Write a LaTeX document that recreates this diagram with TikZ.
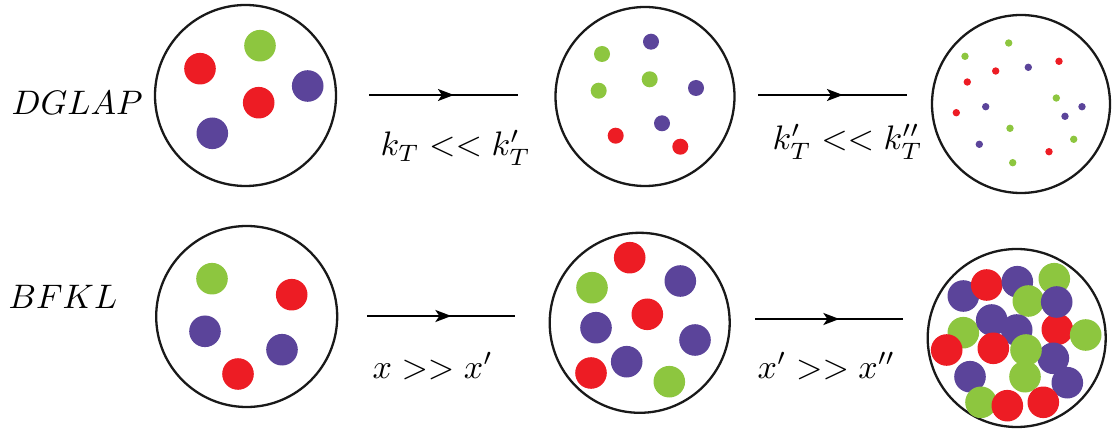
\documentclass[tikz,border=0pt]{standalone}
\usetikzlibrary{arrows.meta,decorations.markings}
\definecolor{qred}{HTML}{ED1C24}
\definecolor{qgreen}{HTML}{8DC63F}
\definecolor{qpurple}{HTML}{5B449A}
\tikzset{
  bag/.style={circle,draw=black!90,line width=2.3pt,minimum size=#1,inner sep=0pt},
  flow/.style={line width=2pt,postaction={decorate},decoration={markings,
     mark=at position 0.57 with {\arrow{Stealth[length=16pt,width=12pt,inset=4pt]}}}},
  lbl/.style={anchor=base west,inner sep=0pt,scale=3.4,font=\fontsize{10}{12}\selectfont},
}
\begin{document}
\begin{tikzpicture}[x=1pt,y=-1pt]
\useasboundingbox (0,0) rectangle (1114,430);
% labels
\node[lbl] (dglap) at (11,114.6) {$DGLAP$};
\node[lbl] (bfkl) at (8,309) {$BFKL$};
% circles
\node[bag=181pt] (c1) at (245.5,95.5) {};
\node[bag=179pt] (c2) at (645,96.5) {};
\node[bag=178pt] (c3) at (1021,104) {};
\node[bag=181pt] (c4) at (246.7,316.5) {};
\node[bag=180pt] (c5) at (639.7,322.8) {};
\node[bag=178pt] (c6) at (1016.7,338) {};
% circle 1 dots
\foreach \c/\x/\y in {qgreen/260/45.7, qred/200/68.7, qpurple/307.7/86, qred/258.7/102.7, qpurple/212.3/133.3}
  {\fill[\c] (\x,\y) circle (15.8);}
% circle 2 dots
\foreach \c/\x/\y in {qpurple/651/41.7, qgreen/602/54, qgreen/649.7/79.3, qgreen/598.7/90.7, qpurple/696/88, qpurple/662/123.3, qred/615.7/135.7, qred/680.3/146.7}
  {\fill[\c] (\x,\y) circle (8);}
% circle 3 dots
\foreach \c/\x/\y in {qgreen/1008.7/43, qgreen/965/56.3, qred/1059/61.3, qred/995.7/71, qpurple/1028.3/67.3, qred/967.3/82, qgreen/1056.3/98, qpurple/1082/106.7, qpurple/985.7/106.7, qred/956.3/112.7, qpurple/1065/116.3, qgreen/1010/128.3, qgreen/1073.7/139.3, qpurple/979.3/144.3, qred/1049/151.7, qgreen/1012.7/162.7}
  {\fill[\c] (\x,\y) circle (3.7);}
% circle 4 dots
\foreach \c/\x/\y in {qgreen/212/278.7, qred/291.7/294.7, qpurple/205/331.3, qpurple/282/349.7, qred/238/374}
  {\fill[\c] (\x,\y) circle (15.8);}
% circle 5 dots
\foreach \c/\x/\y in {qred/629.7/257.7, qpurple/680.3/281, qgreen/592/287.7, qred/647.3/314.3, qpurple/596/327.7, qpurple/695/340, qpurple/626.7/361.7, qred/591/373, qgreen/669.3/381.7}
  {\fill[\c] (\x,\y) circle (15.8);}
% circle 6 dots
\foreach \c/\x/\y in {qpurple/963.3/296, qred/986.7/285, qpurple/1017.3/281.7, qgreen/1054.3/278.7, qgreen/1028.3/301, qred/1057.3/329.3, qpurple/1056.7/302, qgreen/963.3/332.7, qpurple/991.7/320, qpurple/1016.7/330, qgreen/1085.7/335, qred/946.7/350, qred/993.3/348.3, qpurple/1053.3/358.3, qgreen/1026/350, qpurple/970/376.7, qgreen/1025/376.7, qpurple/1067.3/382.7, qgreen/981/402.3, qred/1007.3/405.7, qred/1043.3/402.3}
  {\fill[\c] (\x,\y) circle (15.8);}
% arrows
\coordinate (a1s) at (369,95); \coordinate (a1e) at (518,95);
\coordinate (a2s) at (758,95); \coordinate (a2e) at (907,95);
\coordinate (a3s) at (367,316); \coordinate (a3e) at (515,316);
\coordinate (a4s) at (755,319); \coordinate (a4e) at (903,319);
\draw[flow] (a1s) -- (a1e);
\draw[flow] (a2s) -- (a2e);
\draw[flow] (a3s) -- (a3e);
\draw[flow] (a4s) -- (a4e);
% arrow labels
\node[lbl] (l1) at (380,156) {$k_T << k'_T$};
\node[lbl] (l2) at (772,150) {$k'_T << k''_T$};
\node[lbl] (l3) at (372,378) {$x >> x'$};
\node[lbl] (l4) at (757,378) {$x' >> x''$};
\end{tikzpicture}
\end{document}
